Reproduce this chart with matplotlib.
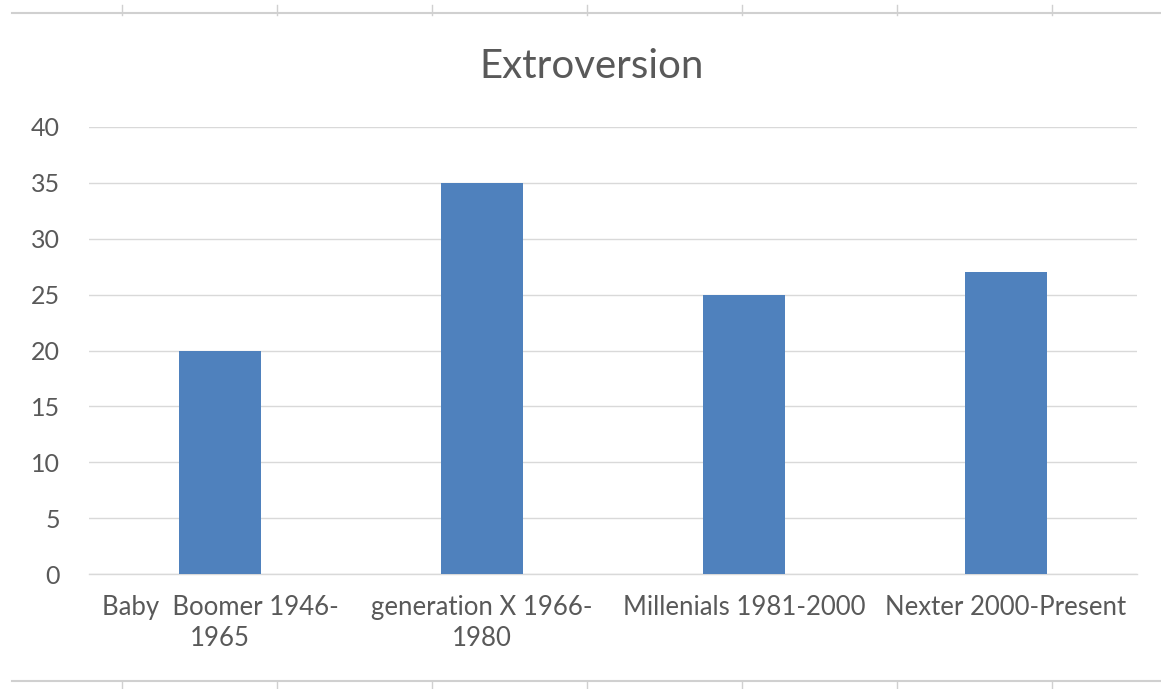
import matplotlib.pyplot as plt
from matplotlib.lines import Line2D

# Data
categories = ["Baby  Boomer 1946-\n1965", "generation X 1966-\n1980",
              "Millenials 1981-2000", "Nexter 2000-Present"]
values = [20, 35, 25, 27]
yticks = [0, 5, 10, 15, 20, 25, 30, 35, 40]
sheet_cols = [122, 277, 432, 587, 742, 897, 1052]  # spreadsheet column borders (px)

W, H = 1161, 689
text_color = "#595959"
plt.rcParams["font.family"] = ["Lato", "DejaVu Sans"]

fig = plt.figure(figsize=(W / 100, H / 100), dpi=100)
ax = fig.add_axes([89 / W, 1 - 574 / H, 1048 / W, 447 / H])

x = range(len(categories))
ax.bar(x, values, width=0.31, color="#4F81BD", zorder=3)

ax.set_xlim(-0.5, len(categories) - 0.5)
ax.set_ylim(0, 40)
ax.set_yticks(yticks)
ax.set_xticks(list(x))
ax.set_xticklabels(categories, linespacing=1.3)
ax.tick_params(axis="y", length=0, pad=21, labelsize=18, labelcolor=text_color)
ax.tick_params(axis="x", length=0, pad=15, labelsize=18.5, labelcolor=text_color)
ax.grid(axis="y", color="#d9d9d9", linewidth=1.0, zorder=0)
for side in ["top", "right", "left"]:
    ax.spines[side].set_visible(False)
ax.spines["bottom"].set_color("#d9d9d9")
ax.spines["bottom"].set_linewidth(1.0)

fig.text(592 / W, 1 - 66 / H, "Extroversion", ha="center", va="center",
         fontsize=29, color=text_color)

# Spreadsheet cell borders above and below the chart
line_color = "#d0d0d0"
for yl in [13, 681]:
    fig.add_artist(Line2D([12 / W, 1], [1 - yl / H, 1 - yl / H],
                          color=line_color, linewidth=1.5, transform=fig.transFigure))
for xc in sheet_cols:
    fig.add_artist(Line2D([xc / W, xc / W], [1 - 5 / H, 1 - 15 / H],
                          color=line_color, linewidth=1.0, transform=fig.transFigure))
    fig.add_artist(Line2D([xc / W, xc / W], [1 - 681 / H, 0],
                          color=line_color, linewidth=1.0, transform=fig.transFigure))

fig.savefig("out.png", dpi=100)
